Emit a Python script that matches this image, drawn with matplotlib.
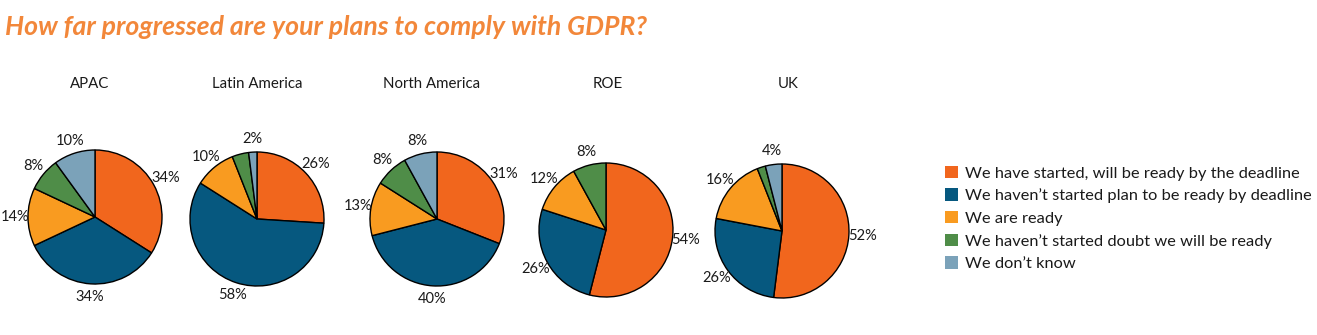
import matplotlib
matplotlib.use("Agg")
import matplotlib.pyplot as plt
from matplotlib.patches import Patch

plt.rcParams['font.family'] = ['Lato', 'DejaVu Sans']

title = "How far progressed are your plans to comply with GDPR?"
regions = ["APAC", "Latin America", "North America", "ROE", "UK"]
categories = [
    "We have started, will be ready by the deadline",
    "We haven\u2019t started plan to be ready by deadline",
    "We are ready",
    "We haven\u2019t started doubt we will be ready",
    "We don\u2019t know",
]
colors = ["#F1661D", "#06587F", "#F99B20", "#4F8D48", "#7BA2B9"]

started_ready = [34, 26, 31, 54, 52]
not_started_plan = [34, 58, 40, 26, 26]
are_ready = [14, 10, 13, 12, 16]
doubt = [8, 4, 8, 8, 2]
dont_know = [10, 2, 8, 0, 4]
# which slices carry a label (small unlabeled slices in the original)
show_label = [
    [1, 1, 1, 1, 1],
    [1, 1, 1, 0, 1],
    [1, 1, 1, 1, 1],
    [1, 1, 1, 1, 0],
    [1, 1, 1, 0, 1],
]

W, H = 1317, 335
fig = plt.figure(figsize=(W / 100, H / 100), dpi=100)
ax = fig.add_axes([0, 0, 1, 1])

centers = [(95, 217), (257, 219), (437, 219), (606, 230), (782, 231)]
title_pos = [(90, 84), (257, 84), (432, 84), (608, 84), (788, 84)]
radius = 67

for i, reg in enumerate(regions):
    vals = [started_ready[i], not_started_plan[i], are_ready[i], doubt[i], dont_know[i]]
    cols = [c for v, c in zip(vals, colors) if v > 0]
    labs = [(f"{v}%" if s else "") for v, s in zip(vals, show_label[i]) if v > 0]
    vv = [v for v in vals if v > 0]
    cx, cy = centers[i]
    ax.pie(vv, colors=cols, labels=labs, startangle=90, counterclock=False,
           center=(cx, H - cy), radius=radius, labeldistance=1.2,
           wedgeprops=dict(edgecolor='black', linewidth=1.0),
           textprops=dict(fontsize=10.5, color='#1a1a1a', ha='center', va='center'),
           frame=True)
    tx, ty = title_pos[i]
    ax.text(tx, H - ty, reg, fontsize=10.8, ha='center', va='center', color='#1a1a1a')

ax.set_xlim(0, W)
ax.set_ylim(0, H)
ax.set_aspect('auto')
ax.axis('off')

fig.text(5 / W, 1 - 27 / H, title, fontsize=19.2, fontweight='bold', fontstyle='italic',
         color='#F2873A', ha='left', va='center')

handles = [Patch(facecolor=c, edgecolor='none') for c in colors]
leg = ax.legend(handles, categories, loc='upper left',
                bbox_to_anchor=(938 / W, 1 - 159 / H), frameon=False,
                fontsize=11.8, handlelength=0.8, handleheight=0.8,
                handletextpad=0.45, labelspacing=0.47, borderaxespad=0)
for t in leg.get_texts():
    t.set_color('#1a1a1a')

fig.savefig("out.png", dpi=100, facecolor='white')
